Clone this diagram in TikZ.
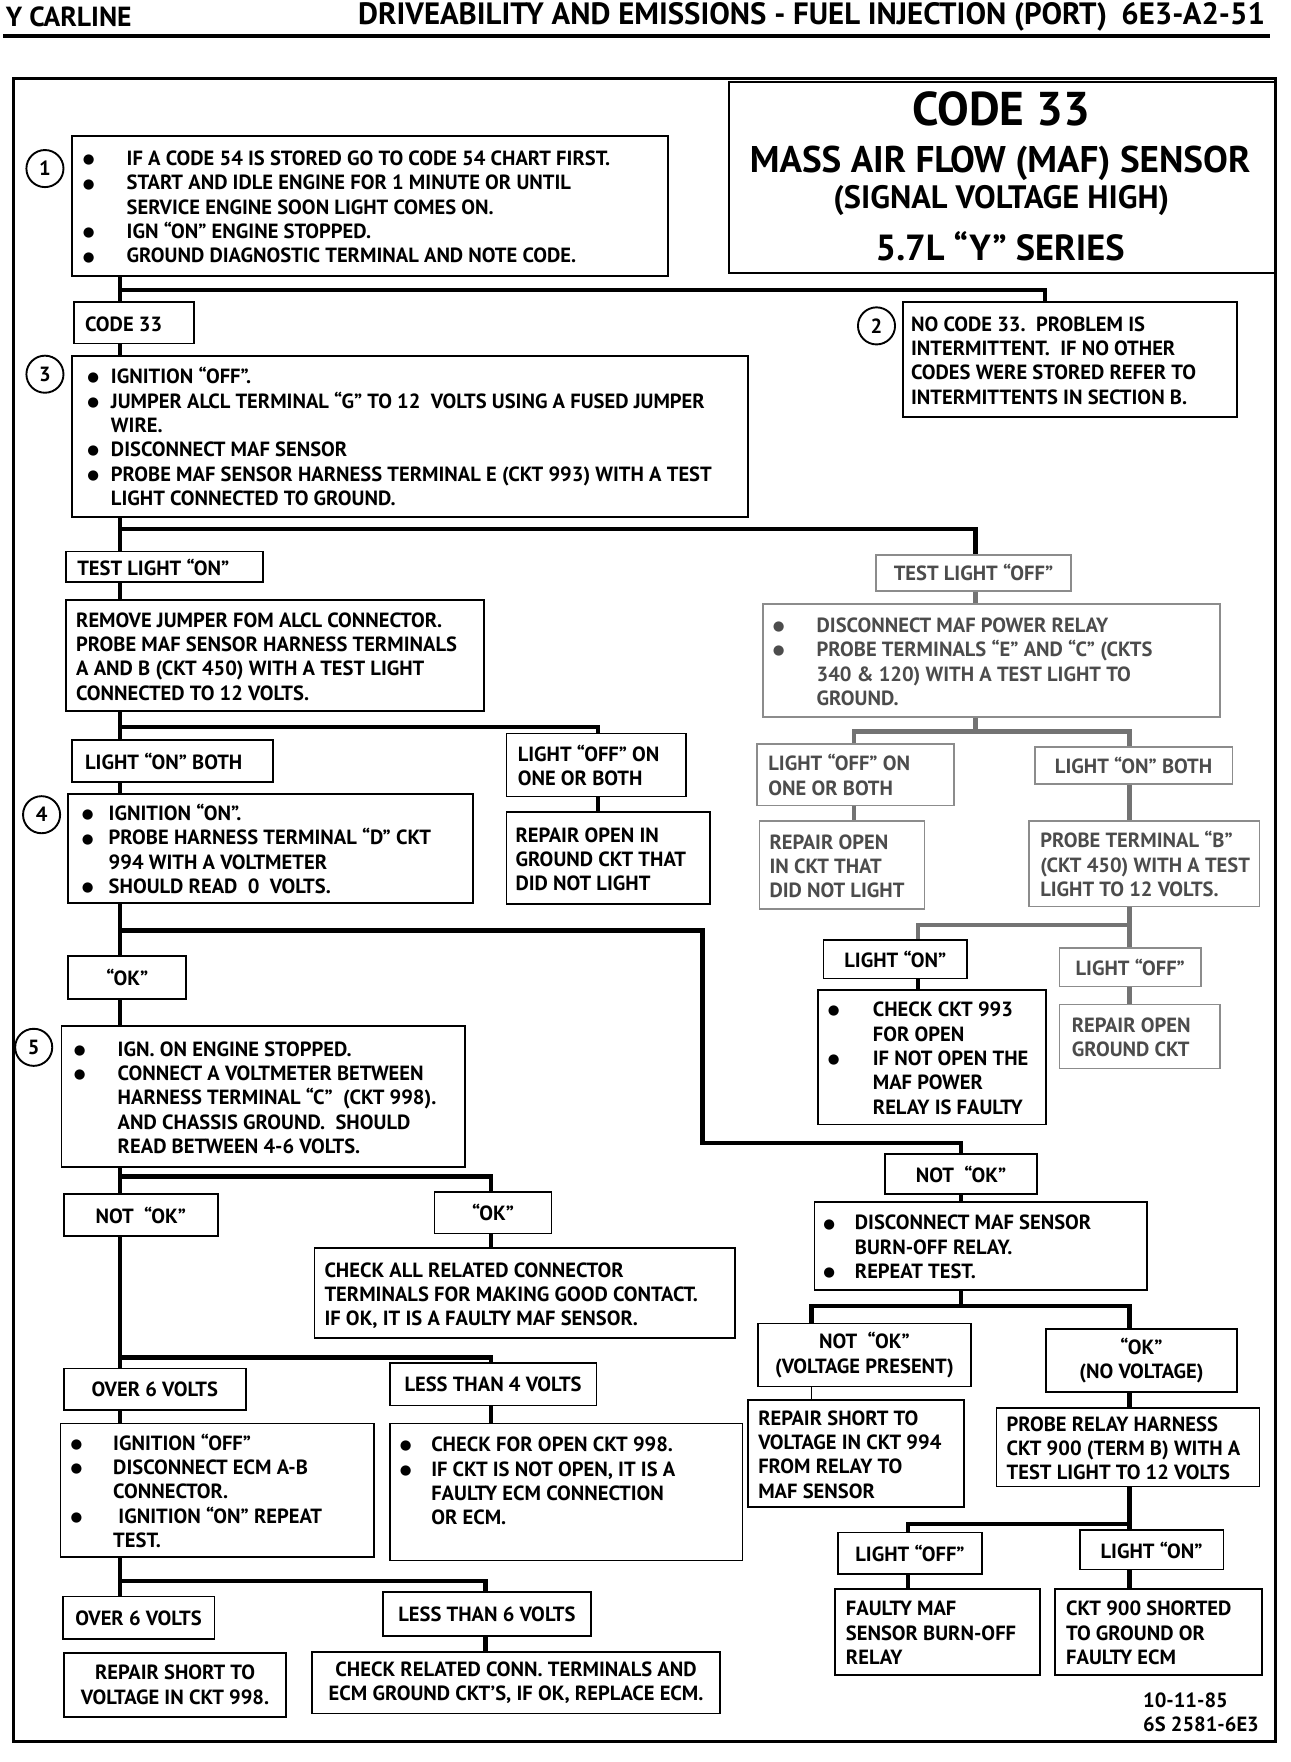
\documentclass[tikz,border=0pt]{standalone}
\usepackage{fontspec}
\setmainfont{PT Sans}
\newfontfamily\symfont{DejaVu Sans}
\usepackage{graphicx}
\newlength\un
\setlength\un{0.025cm}
\newcommand\bodyfont{\fontsize{13}{15.4}\selectfont\bfseries}
\newcommand\bul[1]{\makebox[#1\un][l]{\raisebox{1.2pt}{\symfont\fontsize{8.5}{9}\selectfont ●}}}
\newcommand\cont[1]{\hspace*{#1\un}}
\newcommand\boxlines[3]{\makebox[#1\un][l]{\hspace*{#2\un}%
  \raisebox{-2.2pt}[\height][\depth]{\begin{tabular}{@{}l@{}}#3\end{tabular}}}}

\begin{document}
\begin{tikzpicture}[
  x=0.025cm, y=-0.025cm,
  box/.style={draw, line width=1.1pt, anchor=north west, inner xsep=0pt,
              inner ysep=0pt, font=\bodyfont},
  cbox/.style={box, align=center},
  faded/.style={draw=black!45, text=black!70},
  link/.style={line width=2.8pt},
  flink/.style={line width=2.8pt, black!55},
  num/.style={circle, draw, line width=1.2pt, minimum size=33\un,
              inner sep=0pt, font=\bodyfont},
]
\useasboundingbox (0,0) rectangle (1148,1568);

% page header
\node[anchor=west, inner sep=0pt, font=\fontsize{17.5}{19}\selectfont\bfseries] (carline) at (5,15) {Y CARLINE};
\node[anchor=east, inner sep=0pt, font=\fontsize{19.5}{22}\selectfont\bfseries] (header) at (1126,15)
  {DRIVEABILITY AND EMISSIONS - FUEL INJECTION (PORT)\hspace{9pt}6E3-A2-51};
\draw[line width=2pt] (3,32) -- (1130,32);

% frame and title
\draw[line width=1.8pt] (12,70) rectangle (1135,1550);
\node[box, line width=1.2pt, minimum width=486\un, minimum height=170\un] (title) at (648,72) {};
\node[font=\fontsize{30}{34}\selectfont\bfseries] (t1) at (891,97) {CODE 33};
\node[font=\fontsize{23.5}{26}\selectfont\bfseries] (t2) at (890,145) {MASS AIR FLOW (MAF) SENSOR};
\node[font=\fontsize{20.5}{24}\selectfont\bfseries] (t3) at (891,178) {(SIGNAL VOLTAGE HIGH)};
\node[font=\fontsize{23}{26}\selectfont\bfseries] (t4) at (890,219) {5.7L “Y” SERIES};

% step numbers
\node[num] (n1) at (40,150) {1};
\node[num] (n2) at (780,290) {2};
\node[num] (n3) at (40,333) {3};
\node[num] (n4) at (37,725) {4};
\node[num] (n5) at (30,932) {5};

% left column
\node[box, minimum height=125\un] (b1) at (63,120) {\boxlines{531}{10}{%
  \bul{39}IF A CODE 54 IS STORED GO TO CODE 54 CHART FIRST.\\
  \bul{39}START AND IDLE ENGINE FOR 1 MINUTE OR UNTIL\\
  \cont{39}SERVICE ENGINE SOON LIGHT COMES ON.\\
  \bul{39}IGN “ON” ENGINE STOPPED.\\
  \bul{39}GROUND DIAGNOSTIC TERMINAL AND NOTE CODE.}};
\node[box, minimum height=102\un] (b2) at (803,268) {\boxlines{297}{7}{%
  NO CODE 33.\ \ PROBLEM IS\\
  INTERMITTENT.\ \ IF NO OTHER\\
  CODES WERE STORED REFER TO\\
  INTERMITTENTS IN SECTION B.}};
\node[box, minimum height=37\un] (code) at (65,268) {\boxlines{107}{10}{CODE 33}};
\node[box, minimum height=143\un] (b3) at (63,316) {\boxlines{602}{14}{%
  \bul{21}IGNITION “OFF”.\\
  \bul{21}JUMPER ALCL TERMINAL “G” TO 12\ \ VOLTS USING A FUSED JUMPER\\
  \cont{21}WIRE.\\
  \bul{21}DISCONNECT MAF SENSOR\\
  \bul{21}PROBE MAF SENSOR HARNESS TERMINAL E (CKT 993) WITH A TEST\\
  \cont{21}LIGHT CONNECTED TO GROUND.}};
\node[box, minimum height=27\un] (ton) at (58,490) {\boxlines{175}{10}{TEST LIGHT “ON”}};
\node[box, minimum height=99\un] (rj) at (58,533) {\boxlines{372}{9}{%
  REMOVE JUMPER FOM ALCL CONNECTOR.\\
  PROBE MAF SENSOR HARNESS TERMINALS\\
  A AND B (CKT 450) WITH A TEST LIGHT\\
  CONNECTED TO 12 VOLTS.}};
\node[box, minimum height=37\un] (lon1) at (63,658) {\boxlines{179}{12}{LIGHT “ON” BOTH}};
\node[box, minimum height=56\un] (lof1) at (450,652) {\boxlines{160}{10}{%
  LIGHT “OFF” ON\\ ONE OR BOTH}};
\node[box, minimum height=82\un] (rep1) at (450,722) {\boxlines{181}{8}{%
  REPAIR OPEN IN\\ GROUND CKT THAT\\ DID NOT LIGHT}};
\node[box, minimum height=97\un] (b4) at (60,706) {\boxlines{360}{12}{%
  \bul{24}IGNITION “ON”.\\
  \bul{24}PROBE HARNESS TERMINAL “D” CKT\\
  \cont{24}994 WITH A VOLTMETER\\
  \bul{24}SHOULD READ\ \ 0\ \ VOLTS.}};
\node[cbox, minimum width=105\un, minimum height=38\un] (ok1) at (60,850) {“OK”};
\node[box, minimum height=126\un] (b5) at (54,912) {\boxlines{359}{11}{%
  \bul{39}IGN. ON ENGINE STOPPED.\\
  \bul{39}CONNECT A VOLTMETER BETWEEN\\
  \cont{39}HARNESS TERMINAL “C”\ \ (CKT 998).\\
  \cont{39}AND CHASSIS GROUND.\ \ SHOULD\\
  \cont{39}READ BETWEEN 4-6 VOLTS.}};
\node[cbox, minimum width=137\un, minimum height=37\un] (nok1) at (56,1062) {NOT\ \ “OK”};
\node[cbox, minimum width=104\un, minimum height=37\un] (ok2) at (386,1060) {“OK”};
\node[box, minimum height=80\un] (chk) at (279,1110) {\boxlines{374}{9}{%
  CHECK ALL RELATED CONNECTOR\\
  TERMINALS FOR MAKING GOOD CONTACT.\\
  IF OK, IT IS A FAULTY MAF SENSOR.}};
\node[cbox, minimum width=162\un, minimum height=37\un] (o6a) at (56,1217) {OVER 6 VOLTS};
\node[cbox, minimum width=184\un, minimum height=38\un] (l4) at (346,1212) {LESS THAN 4 VOLTS};
\node[box, minimum height=119\un] (io) at (53,1266) {\boxlines{279}{9}{%
  \bul{38}IGNITION “OFF”\\
  \bul{38}DISCONNECT ECM A-B\\
  \cont{38}CONNECTOR.\\
  \bul{38}\ IGNITION “ON” REPEAT\\
  \cont{38}TEST.}};
\node[box, minimum height=122\un] (co) at (346,1266) {\boxlines{314}{9}{%
  \bul{28}CHECK FOR OPEN CKT 998.\\
  \bul{28}IF CKT IS NOT OPEN, IT IS A\\
  \cont{28}FAULTY ECM CONNECTION\\
  \cont{28}OR ECM.\\ \mbox{}}};
\node[cbox, minimum width=135\un, minimum height=38\un] (o6b) at (55,1420) {OVER 6 VOLTS};
\node[cbox, minimum width=185\un, minimum height=39\un] (l6) at (340,1416) {LESS THAN 6 VOLTS};
\node[cbox, minimum width=198\un, minimum height=57\un] (rs998) at (56,1470) {%
  REPAIR SHORT TO\\ VOLTAGE IN CKT 998.};
\node[cbox, minimum width=363\un, minimum height=55\un] (crel) at (277,1469) {%
  CHECK RELATED CONN. TERMINALS AND\\ ECM GROUND CKT’S, IF OK, REPLACE ECM.};

% right column
\node[cbox, faded, minimum width=173\un, minimum height=32\un] (toff) at (779,493) {TEST LIGHT “OFF”};
\node[box, faded, minimum height=100\un] (dp) at (678,537) {\boxlines{407}{9}{%
  \bul{39}DISCONNECT MAF POWER RELAY\\
  \bul{39}PROBE TERMINALS “E” AND “C” (CKTS\\
  \cont{39}340 \& 120) WITH A TEST LIGHT TO\\
  \cont{39}GROUND.}};
\node[box, faded, minimum height=55\un] (lof2) at (673,661) {\boxlines{175}{10}{%
  LIGHT “OFF” ON\\ ONE OR BOTH}};
\node[cbox, faded, minimum width=176\un, minimum height=33\un] (lon2) at (920,664) {LIGHT “ON” BOTH};
\node[box, faded, minimum height=78\un] (rep2) at (675,730) {\boxlines{147}{9}{%
  REPAIR OPEN\\ IN CKT THAT\\ DID NOT LIGHT}};
\node[box, faded, minimum height=76\un] (pb) at (915,730) {\boxlines{205}{10}{%
  PROBE TERMINAL “B”\\ (CKT 450) WITH A TEST\\ LIGHT TO 12 VOLTS.}};
\node[cbox, minimum width=128\un, minimum height=34\un] (lo3) at (732,836) {LIGHT “ON”};
\node[cbox, faded, minimum width=126\un, minimum height=34\un] (lf3) at (942,843) {LIGHT “OFF”};
\node[box, minimum height=120\un] (c993) at (727,880) {\boxlines{203}{9}{%
  \bul{40}CHECK CKT 993\\
  \cont{40}FOR OPEN\\
  \bul{40}IF NOT OPEN THE\\
  \cont{40}MAF POWER\\
  \cont{40}RELAY IS FAULTY}};
\node[box, faded, minimum height=57\un] (rog) at (942,893) {\boxlines{143}{11}{%
  REPAIR OPEN\\ GROUND CKT}};
\node[cbox, minimum width=135\un, minimum height=36\un] (nok2) at (787,1026) {NOT\ \ “OK”};
\node[box, minimum height=78\un] (burn) at (724,1069) {\boxlines{296}{8}{%
  \bul{28}DISCONNECT MAF SENSOR\\
  \cont{28}BURN-OFF RELAY.\\
  \bul{28}REPEAT TEST.}};
\node[cbox, minimum width=189\un, minimum height=56\un] (nokv) at (674,1177) {%
  NOT\ \ “OK”\\ (VOLTAGE PRESENT)};
\node[cbox, minimum width=170\un, minimum height=56\un] (okv) at (930,1182) {%
  “OK”\\ (NO VOLTAGE)};
\node[box, minimum height=95\un] (rs994) at (665,1245) {\boxlines{192}{9}{%
  REPAIR SHORT TO\\ VOLTAGE IN CKT 994\\ FROM RELAY TO\\ MAF SENSOR}};
\node[box, minimum height=70\un] (prh) at (886,1252) {\boxlines{234}{9}{%
  PROBE RELAY HARNESS\\ CKT 900 (TERM B) WITH A\\ TEST LIGHT TO 12 VOLTS}};
\node[cbox, minimum width=128\un, minimum height=37\un] (lf4) at (745,1363) {LIGHT “OFF”};
\node[cbox, minimum width=128\un, minimum height=35\un] (lo4) at (960,1361) {LIGHT “ON”};
\node[box, minimum height=77\un] (fmaf) at (742,1413) {\boxlines{183}{10}{%
  FAULTY MAF\\ SENSOR BURN-OFF\\ RELAY}};
\node[box, minimum height=77\un] (c900) at (938,1413) {\boxlines{184}{10}{%
  CKT 900 SHORTED\\ TO GROUND OR\\ FAULTY ECM}};
\node[anchor=north west, align=left, inner sep=0pt, font=\bodyfont] (date) at (1017,1506)
  {10-11-85\\ 6S 2581-6E3};

% trunk and branch points
\coordinate (lx) at (107,0);
\coordinate (f1) at (930,258);
\coordinate (f2) at (868,471);
\coordinate (f3) at (532,647);
\coordinate (f4) at (625,828);
\coordinate (g4) at (855,1017);
\coordinate (f5) at (437,1047);
\coordinate (f6) at (437,1208);
\coordinate (f7) at (432,1407);
\coordinate (f8a) at (760,651);
\coordinate (f8b) at (1005,651);
\coordinate (f9a) at (817,823);
\coordinate (f9b) at (1005,823);
\coordinate (f10a) at (722,1162);
\coordinate (f10b) at (1005,1162);
\coordinate (f11a) at (808,1356);
\coordinate (f11b) at (1005,1356);

% left connectors
\draw[link] (b1.south -| lx) -- (code.north -| lx);
\draw[link] (f1 -| lx) -| (b2.north -| f1);
\draw[link] (code.south -| lx) -- (b3.north -| lx);
\draw[link] (b3.south -| lx) -- (ton.north -| lx);
\draw[link] (f2 -| lx) -| (toff.north -| f2);
\draw[link] (ton.south -| lx) -- (rj.north -| lx);
\draw[link] (rj.south -| lx) -- (lon1.north -| lx);
\draw[link] (f3 -| lx) -| (lof1.north -| f3);
\draw[link] (lof1.south -| f3) -- (rep1.north -| f3);
\draw[link] (lon1.south -| lx) -- (b4.north -| lx);
\draw[link] (b4.south -| lx) -- (ok1.north -| lx);
\draw[link] (f4 -| lx) -- (f4) |- (g4) -- (nok2.north -| g4);
\draw[link] (ok1.south -| lx) -- (b5.north -| lx);
\draw[link] (b5.south -| lx) -- (nok1.north -| lx);
\draw[link] (f5 -| lx) -| (ok2.north -| f5);
\draw[link] (ok2.south -| f5) -- (chk.north -| f5);
\draw[link] (nok1.south -| lx) -- (o6a.north -| lx);
\draw[link] (f6 -| lx) -| (l4.north -| f6);
\draw[link] (o6a.south -| lx) -- (io.north -| lx);
\draw[link] (l4.south -| f6) -- (co.north -| f6);
\draw[link] (io.south -| lx) -- (o6b.north -| lx);
\draw[link] (f7 -| lx) -| (l6.north -| f7);
\draw[link] (l6.south -| f7) -- (crel.north -| f7);

% right connectors
\draw[flink] (toff.south -| f2) -- (dp.north -| f2);
\draw[flink] (dp.south -| f2) -- (f2 |- f8a);
\draw[flink] (lof2.north -| f8a) |- (f8b) -- (lon2.north -| f8b);
\draw[flink] (lof2.south -| f8a) -- (rep2.north -| f8a);
\draw[flink] (lon2.south -| f8b) -- (pb.north -| f8b);
\draw[flink] (pb.south -| f9b) -- (f9b);
\draw[flink] (lo3.north -| f9a) |- (f9b) -- (lf3.north -| f9b);
\draw[link] (lo3.south -| f9a) -- (c993.north -| f9a);
\draw[flink] (lf3.south -| f9b) -- (rog.north -| f9b);
\draw[link] (nok2.south -| g4) -- (burn.north -| g4);
\draw[link] (burn.south -| g4) -- (g4 |- f10a);
\draw[link] (nokv.north -| f10a) |- (f10b) -- (okv.north -| f10b);
\draw[line width=1pt] (nokv.south -| f10a) -- (rs994.north -| f10a);
\draw[link] (okv.south -| f10b) -- (prh.north -| f10b);
\draw[link] (prh.south -| f11b) -- (f11b);
\draw[link] (lf4.north -| f11a) |- (f11b) -- (lo4.north -| f11b);
\draw[link] (lf4.south -| f11a) -- (fmaf.north -| f11a);
\draw[link] (lo4.south -| f11b) -- (c900.north -| f11b);

\end{tikzpicture}
\end{document}
